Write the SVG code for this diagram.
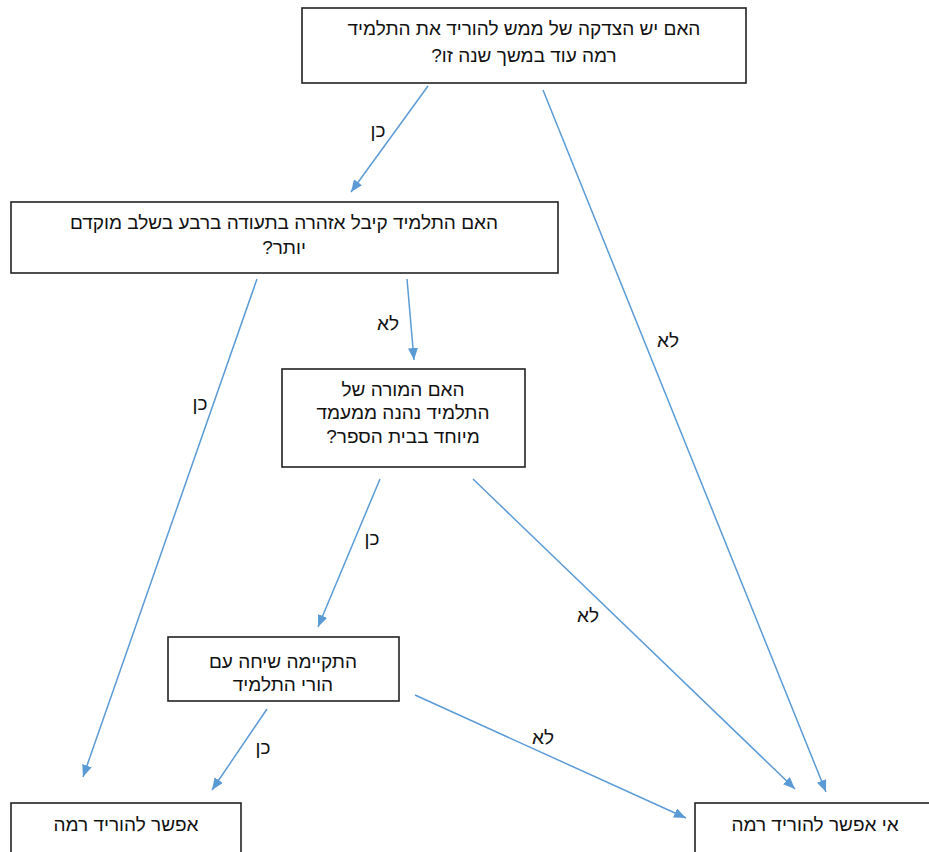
<svg xmlns="http://www.w3.org/2000/svg" width="929" height="852" viewBox="0 0 929 852">
<style>
.box{fill:#fff;stroke:#222;stroke-width:1.6}
.t{font-family:"Liberation Sans","Noto Sans","DejaVu Sans",sans-serif;font-size:19px;fill:#111;text-anchor:middle;direction:rtl}
.c{stroke:#5B9BD5;stroke-width:1.5;fill:none;marker-end:url(#ah)}
.l{font-family:"Liberation Sans","Noto Sans","DejaVu Sans",sans-serif;font-size:19px;fill:#111;text-anchor:middle;direction:rtl}
</style>
<defs>
<marker id="ah" viewBox="0 0 12 10" refX="12" refY="5" markerWidth="12" markerHeight="10" markerUnits="userSpaceOnUse" orient="auto">
<path d="M0,0 L12,5 L0,10 z" fill="#5B9BD5"/>
</marker>
</defs>
<rect width="929" height="852" fill="#fff"/>
<g id="connectors">
<line class="c" x1="428" y1="86" x2="351" y2="192"/>
<line class="c" x1="543" y1="90" x2="826" y2="792"/>
<line class="c" x1="257" y1="279" x2="83" y2="777"/>
<line class="c" x1="407" y1="279" x2="414" y2="360"/>
<line class="c" x1="380" y1="479" x2="318" y2="627"/>
<line class="c" x1="473" y1="479" x2="795" y2="789"/>
<line class="c" x1="267" y1="709" x2="212" y2="790"/>
<line class="c" x1="415" y1="695" x2="686" y2="818"/>
<text class="l" x="378" y="137">כן</text>
<text class="l" x="668" y="347">לא</text>
<text class="l" x="200" y="410">כן</text>
<text class="l" x="388" y="330">לא</text>
<text class="l" x="372" y="545">כן</text>
<text class="l" x="588" y="622">לא</text>
<text class="l" x="263" y="754">כן</text>
<text class="l" x="543" y="744">לא</text>
</g>
<g id="q1">
<rect class="box" x="302" y="8" width="444" height="75"/>
<text class="t" x="524" y="35">האם יש הצדקה של ממש להוריד את התלמיד</text>
<text class="t" x="524" y="62">רמה עוד במשך שנה זו?</text>
</g>
<g id="q2">
<rect class="box" x="11" y="202" width="547" height="71"/>
<text class="t" x="284" y="229">האם התלמיד קיבל אזהרה בתעודה ברבע בשלב מוקדם</text>
<text class="t" x="284" y="254">יותר?</text>
</g>
<g id="q3">
<rect class="box" x="282" y="369" width="243" height="98"/>
<text class="t" x="403" y="396">האם המורה של</text>
<text class="t" x="403" y="419">התלמיד נהנה ממעמד</text>
<text class="t" x="403" y="443">מיוחד בבית הספר?</text>
</g>
<g id="q4">
<rect class="box" x="168" y="637" width="231" height="64"/>
<text class="t" x="283" y="668">התקיימה שיחה עם</text>
<text class="t" x="283" y="691">הורי התלמיד</text>
</g>
<g id="yes">
<rect class="box" x="11" y="803" width="230" height="60"/>
<text class="t" x="126" y="831">אפשר להוריד רמה</text>
</g>
<g id="no">
<rect class="box" x="695" y="803" width="240" height="60"/>
<text class="t" x="815" y="831">אי אפשר להוריד רמה</text>
</g>
</svg>
